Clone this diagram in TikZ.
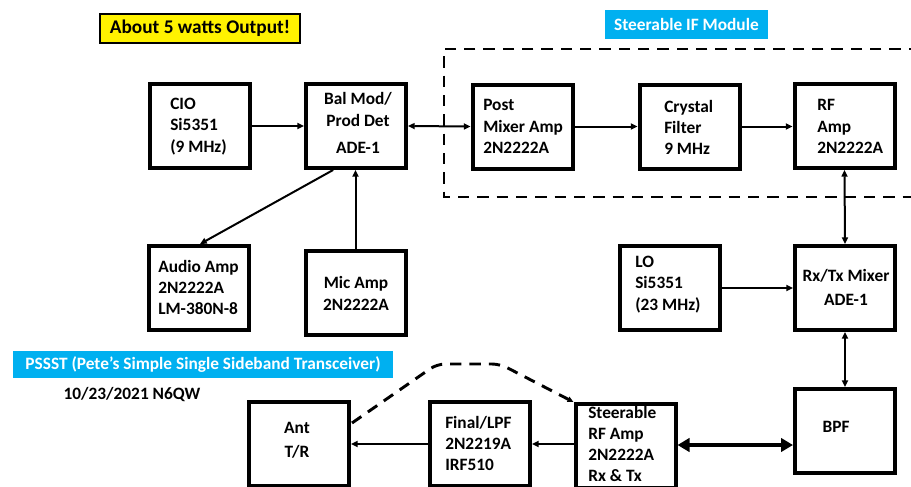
\documentclass[tikz,border=0pt]{standalone}
\usepackage{fontspec}
\setmainfont{Carlito}
\usetikzlibrary{arrows.meta,calc}
\definecolor{lblue}{RGB}{0,176,240}
\begin{document}
\begin{tikzpicture}[x=0.75pt,y=-0.75pt,
  font=\bfseries\fontsize{13}{16}\selectfont,
  box/.style={draw, line width=3pt, minimum width=75pt, minimum height=63pt, inner sep=0pt},
  txt/.style={align=left, inner sep=0pt, anchor=west},
  ctxt/.style={align=center, inner sep=0pt},
  tip/.tip={Triangle[length=5pt,width=4.5pt]},
  arr/.style={line width=1.5pt, -tip},
  darr/.style={line width=1.5pt, tip-tip},
  bigarr/.style={line width=3.2pt, {Triangle[length=9pt,width=10pt]}-{Triangle[length=9pt,width=10pt]}},
  dashline/.style={line width=2.2pt, dash pattern=on 8.5pt off 6pt},
  lbl/.style={fill=lblue, text=white, inner sep=0pt}
]
\useasboundingbox (0,0) rectangle (911,486);
\clip (0,0) rectangle (911,486);
\fill[white] (0,0) rectangle (911,486);

% labels
\node[draw, line width=1.5pt, fill=yellow, minimum width=150pt, minimum height=22pt, inner sep=0pt,
      font=\bfseries\fontsize{14.5}{17}\selectfont] (title) at (200,28.5) {About 5 watts Output!};
\node[lbl, minimum width=122pt, minimum height=22pt] (iflbl) at (686.5,24.5) {Steerable IF Module};
\node[lbl, minimum width=285pt, minimum height=20pt] (pssst) at (203,364.5) {PSSST (Pete’s Simple Single Sideband Transceiver)};
\node[inner sep=0pt] (date) at (132,395) {10/23/2021 N6QW};

% dashed module outline
\coordinate (m1) at (920,49);
\coordinate (m2) at (444,49);
\coordinate (m3) at (444,197);
\coordinate (m4) at (920,197);
\draw[dashline] (m1) -- (m2) -- (m3) -- (m4);

% boxes
\node[box] (cio) at (200,126) {};
\node[box] (balmod) at (356,126) {};
\node[box] (post) at (522.5,126.5) {};
\node[box] (crystal) at (689.5,126.5) {};
\node[box] (rfamp) at (844.5,126) {};
\node[box] (audio) at (199,288) {};
\node[box] (mic) at (355.5,293) {};
\node[box] (lo) at (669.5,288) {};
\node[box] (mixer) at (845,288) {};
\node[box] (bpf) at (845,431) {};
\node[box] (ant) at (299,444) {};
\node[box] (final) at (480,444) {};
\node[box] (steer) at (625.5,446) {};

% box texts
\node[txt] (ciot) at (170,126.5) {CIO\\Si5351\\(9 MHz)};
\node[ctxt] (balmodt) at (358,123) {Bal Mod/\\Prod Det\\[4.5pt]ADE-1};
\node[txt] (postt) at (483,126.5) {Post\\Mixer Amp\\2N2222A};
\node[txt] (crystalt) at (664,127.5) {Crystal\\Filter\\9 MHz};
\node[txt] (rfampt) at (817,126.5) {RF\\Amp\\2N2222A};
\node[txt] (audiot) at (158,287.5) {Audio Amp\\2N2222A\\LM-380N-8};
\node[ctxt] (mict) at (356,293.5) {Mic Amp\\2N2222A};
\node[txt] (lot) at (635,284.5) {LO\\Si5351\\(23 MHz)};
\node[ctxt] (mixert) at (846,287) {Rx/Tx Mixer\\[2pt]ADE-1};
\node[ctxt] (bpft) at (836,427) {BPF};
\node[ctxt] (antt) at (297,440) {Ant\\[2pt]T/R};
\node[txt] (finalt) at (445,443.5) {Final/LPF\\2N2219A\\IRF510};
\node[txt, font=\bfseries\fontsize{13}{15.6}\selectfont] (steert) at (588,444) {Steerable\\RF Amp\\2N2222A\\Rx \& Tx};

% connectors
\draw[arr] (cio.east) -- (balmod.west);
\draw[darr] (balmod.east) -- (post.west);
\draw[arr] (post.east) -- (post.east -| crystal.west);
\draw[arr] (crystal.east) -- (crystal.east -| rfamp.west);
\draw[darr] (rfamp.south) -- (mixer.north);
\draw[arr] (lo.east) -- (mixer.west);
\draw[darr] (mixer.south) -- (bpf.north);
\draw[bigarr] (steer.east |- 0,445) -- (bpf.west |- 0,445);
\draw[arr] (steer.west |- 0,444) -- (final.east |- 0,444);
\draw[arr] (final.west |- 0,444) -- (ant.east |- 0,444);
\draw[arr] ($(balmod.south west)!0.28!(balmod.south east)$) -- ($(audio.north west)!0.51!(audio.north east)$);
\draw[arr] (mic.north) -- (mic.north |- balmod.south);

% dashed steering line
\coordinate (d1) at (437,364);
\coordinate (d2) at (500,364);
\draw[dashline, rounded corners=6pt, -{Triangle[length=4.5pt,width=4pt]}]
  ($(ant.north east)+(1,23)$) -- (d1) -- (d2) -- (steer.north west);
\end{tikzpicture}
\end{document}
